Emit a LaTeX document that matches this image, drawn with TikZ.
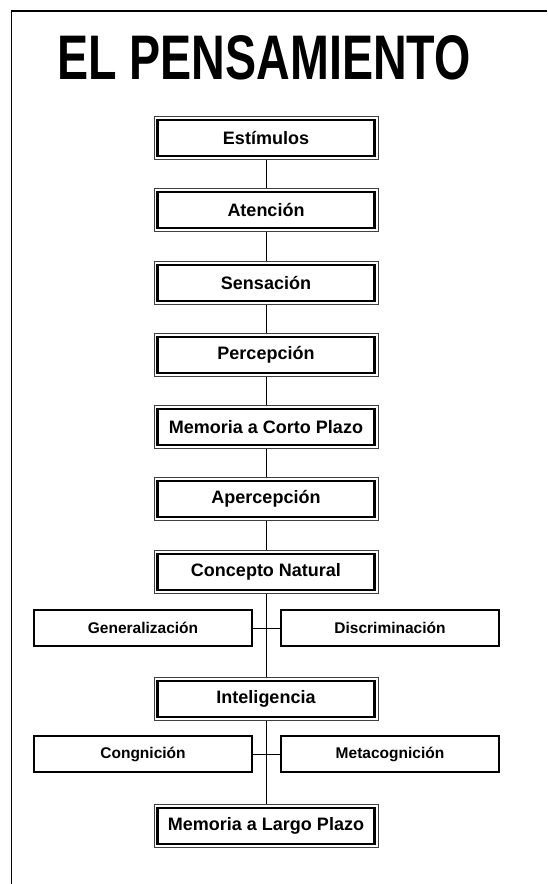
\documentclass[tikz,border=0pt]{standalone}
\usepackage{fontspec}
\setmainfont{Liberation Sans}
\usepackage{tikz}
\usetikzlibrary{positioning}

\begin{document}
\begin{tikzpicture}[x=1pt, y=-1pt,
    stage/.style={draw, line width=0.8pt, draw=black!75, fill=white, minimum width=224pt, minimum height=43pt, inner sep=0pt, font=\fontsize{18}{20}\selectfont\bfseries},
    side/.style={draw, line width=2pt, fill=white, minimum width=218pt, minimum height=36pt, inner sep=0pt, font=\fontsize{15.5}{17}\selectfont\bfseries},
    link/.style={line width=1pt}]
  \useasboundingbox (0,0) rectangle (547,884);
  % marco
  \draw[line width=1.6pt] (547,11) -- (11.5,11) -- (11.5,884);
  % titulo
  \node[font=\fontsize{63}{70}\selectfont\bfseries] (title) at (264,58) {\scalebox{0.74}[1]{EL PENSAMIENTO}};
  % etapas
  \node[stage] (est) at (266,138) {Estímulos};
  \node[stage] (aten) at (266,210) {Atención};
  \node[stage] (sens) at (266,283) {Sensación};
  \node[stage] (perc) at (266,355) {Percepción};
  \node[stage] (mcp) at (266,427) {Memoria a Corto Plazo};
  \node[stage] (aperc) at (266,499) {Apercepción};
  \node[stage] (conc) at (266,572) {Concepto Natural};
  \node[side] (gen) at (143,628) {Generalización};
  \node[side] (disc) at (390,628) {Discriminación};
  \node[stage] (intel) at (266,699) {Inteligencia};
  \node[side] (cogn) at (143,754) {Congnición};
  \node[side] (meta) at (390,754) {Metacognición};
  \node[stage] (mlp) at (266,826) {Memoria a Largo Plazo};
  % uniones
  \draw[link] (est) -- (aten);
  \draw[link] (aten) -- (sens);
  \draw[link] (sens) -- (perc);
  \draw[link] (perc) -- (mcp);
  \draw[link] (mcp) -- (aperc);
  \draw[link] (aperc) -- (conc);
  \draw[link] (conc) -- (intel);
  \draw[link] (intel) -- (mlp);
  \draw[link] (gen) -- (disc);
  \draw[link] (cogn) -- (meta);
  % borde grueso interior
  \foreach \n in {est,aten,sens,perc,mcp,aperc,conc,intel,mlp}
    \draw[line width=2.5pt] ([shift={(3.9pt,-3.9pt)}]\n.north west) rectangle ([shift={(-3.9pt,3.9pt)}]\n.south east);
\end{tikzpicture}
\end{document}
